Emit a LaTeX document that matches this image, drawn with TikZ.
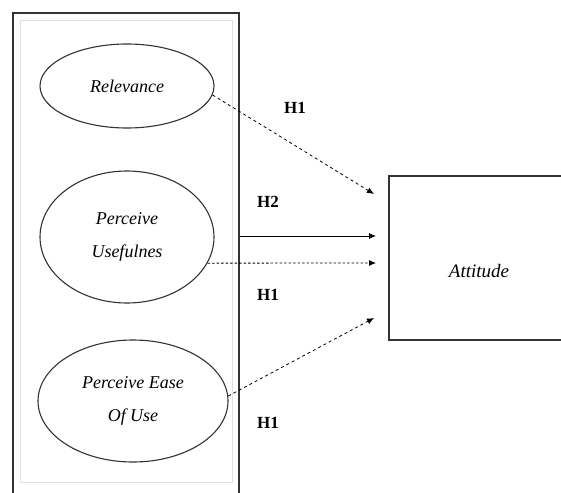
\documentclass[tikz,border=0pt]{standalone}
\usepackage{fontspec}
\setmainfont{Liberation Serif}
\usetikzlibrary{shapes.geometric,arrows.meta}
\begin{document}
\begin{tikzpicture}[x=1pt,y=-1pt,
  construct/.style={draw=black!80,line width=1.1pt,ellipse,inner sep=0pt,
    align=center,font=\fontsize{18}{33}\selectfont\itshape},
  hyp/.style={font=\fontsize{17}{20}\selectfont\bfseries},
  link/.style={line width=0.8pt,-{Latex[length=7pt,width=6pt]}},
  dashlink/.style={link,dash pattern=on 3pt off 3pt},
  finedash/.style={link,dash pattern=on 2.5pt off 2pt}]
\useasboundingbox (0,0) rectangle (561,492);
\clip (0,0) rectangle (561,492);
\fill[white] (0,0) rectangle (561,492);

% outer frame around the three constructs (runs past the lower edge)
\node[draw=black!80,line width=1.5pt,minimum width=226pt,minimum height=500pt,
  inner sep=0pt] (frame) at (126,263) {};
\draw[black!12,line width=0.6pt] (20,20) rectangle (232,482);

% constructs
\node[construct,minimum width=174pt,minimum height=84pt] (rel) at (127,86) {Relevance};
\node[construct,minimum width=174pt,minimum height=132pt] (use) at (127,237)
  {Perceive\\Usefulnes};
\node[construct,minimum width=190pt,minimum height=122pt] (ease) at (133,401)
  {Perceive Ease\\Of Use};

% dependent variable box (open to the right edge)
\node[draw=black!80,line width=1.5pt,minimum width=181pt,minimum height=164pt,
  inner sep=0pt] (att) at (479.5,258) {};
\node[font=\fontsize{19}{22}\selectfont\itshape] (attlabel) at (479,271) {Attitude};

% arrow tips stop short of the box
\coordinate (tipA) at (374,194);
\coordinate (tipB) at (376,236);
\coordinate (tipC) at (376,263);
\coordinate (tipD) at (374,318);

\draw[dashlink] (rel.-6) -- (tipA);
\draw[link] (frame.east |- tipB) -- (tipB);
\draw[finedash] (use.-18) -- (tipC);
\draw[dashlink] (ease.3) -- (tipD);

% hypothesis labels
\node[hyp] (h1a) at (295,108) {H1};
\node[hyp] (h2) at (268,202) {H2};
\node[hyp] (h1b) at (268,295) {H1};
\node[hyp] (h1c) at (268,423) {H1};
\end{tikzpicture}
\end{document}
